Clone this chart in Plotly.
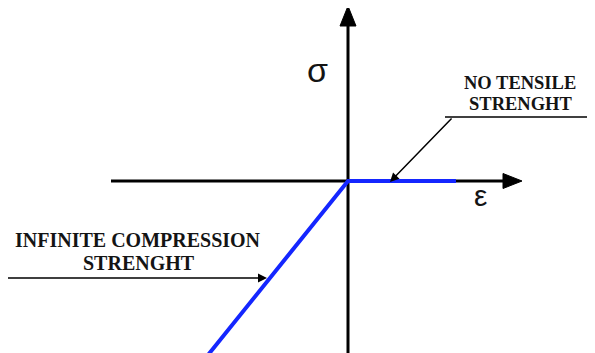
import plotly.graph_objects as go

# Constitutive law (strain, stress) in drawing units, origin at axes crossing
strain = [-140, 0, 108]
stress = [-174, 0, 0]

# axis extents
x_axis_from, x_axis_to = -237, 174
y_axis_from, y_axis_to = -185, 175

# labels
label_left = ["INFINITE COMPRESSION", "STRENGHT"]
label_right = ["NO TENSILE", "STRENGHT"]
sym_stress = "σ"
sym_strain = "ε"

fig = go.Figure()

# axes lines
fig.add_trace(go.Scatter(x=[x_axis_from, x_axis_to - 17], y=[0, 0], mode="lines",
                         line=dict(color="black", width=3), hoverinfo="skip"))
fig.add_trace(go.Scatter(x=[0, 0], y=[y_axis_from, y_axis_to - 18], mode="lines",
                         line=dict(color="black", width=3), hoverinfo="skip"))
# arrowheads of axes
fig.add_trace(go.Scatter(x=[x_axis_to, x_axis_to - 19, x_axis_to - 19, x_axis_to],
                         y=[0, 7.5, -7.5, 0], mode="lines", fill="toself",
                         fillcolor="black", line=dict(color="black", width=1), hoverinfo="skip"))
fig.add_trace(go.Scatter(x=[0, -8, 8, 0],
                         y=[y_axis_to, y_axis_to - 20, y_axis_to - 20, y_axis_to], mode="lines", fill="toself",
                         fillcolor="black", line=dict(color="black", width=1), hoverinfo="skip"))

# material law
fig.add_trace(go.Scatter(x=strain, y=stress, mode="lines",
                         line=dict(color="#1426ff", width=4), hoverinfo="skip"))

# underline of right label
fig.add_trace(go.Scatter(x=[97, 260], y=[64, 64], mode="lines",
                         line=dict(color="black", width=1.5), hoverinfo="skip"))

ann = []
# pointer arrows
ann.append(dict(x=42, y=-1, ax=105, ay=64, xref="x", yref="y", axref="x", ayref="y",
                text="", showarrow=True, arrowhead=2, arrowsize=1.2, arrowwidth=1.5,
                arrowcolor="black", standoff=0))
ann.append(dict(x=-81, y=-97, ax=-345, ay=-97, xref="x", yref="y", axref="x", ayref="y",
                text="", showarrow=True, arrowhead=2, arrowsize=1.2, arrowwidth=1.5,
                arrowcolor="black", standoff=0))

tfont = dict(family="Liberation Serif", size=20, color="#141414")
rfont = dict(family="Liberation Serif", size=18.5, color="#141414")
ann.append(dict(x=-210, y=-59, text="<b>%s</b>" % label_left[0], showarrow=False,
                xanchor="center", yanchor="middle", font=tfont))
ann.append(dict(x=-209, y=-82, text="<b>%s</b>" % label_left[1], showarrow=False,
                xanchor="center", yanchor="middle", font=tfont))
ann.append(dict(x=172, y=98.5, text="<b>%s</b>" % label_right[0], showarrow=False,
                xanchor="center", yanchor="middle", font=rfont, borderpad=0))
ann.append(dict(x=172, y=77, text="<b>%s</b>" % label_right[1], showarrow=False,
                xanchor="center", yanchor="middle", font=rfont, borderpad=0))
ann.append(dict(x=-31, y=111, text=sym_stress, showarrow=False,
                xanchor="center", yanchor="middle",
                font=dict(family="Liberation Sans", size=34, color="#141414")))
ann.append(dict(x=132, y=-14, text=sym_strain, showarrow=False,
                xanchor="center", yanchor="middle",
                font=dict(family="Liberation Sans", size=30, color="#141414")))

# page body has an 8px margin; ranges are shifted so the drawing lands in place
fig.update_layout(
    width=595, height=353, margin=dict(l=0, r=0, t=0, b=0),
    paper_bgcolor="white", plot_bgcolor="white", showlegend=False,
    xaxis=dict(range=[-340, 255], visible=False, fixedrange=True),
    yaxis=dict(range=[-180, 173], visible=False, fixedrange=True),
    annotations=ann,
)

fig.write_html("out.html")
